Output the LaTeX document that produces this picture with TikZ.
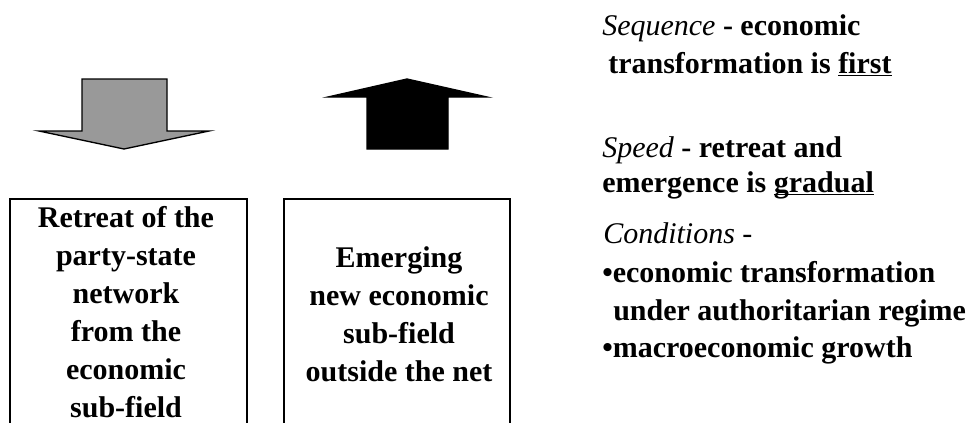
\documentclass[tikz,border=0pt]{standalone}
\usepackage{fontspec}
\setmainfont{Liberation Serif}
\definecolor{arrowgray}{HTML}{999999}
\newcommand{\undl}[1]{\setbox0\hbox{#1}\rlap{\rule[-2.6pt]{\wd0}{0.9pt}}\box0}
\tikzset{
  frame/.style={draw=black, line width=1pt},
  boxtext/.style={anchor=base, inner sep=0pt, font=\fontsize{22.5}{27}\selectfont\bfseries},
  sidetext/.style={anchor=base west, inner sep=0pt, font=\fontsize{22.5}{27}\selectfont\bfseries}
}

\begin{document}
\begin{tikzpicture}[x=0.75pt,y=-0.75pt]
			\useasboundingbox (0,0) rectangle (978,422);
			\clip (0,0) rectangle (978,422);
			% block arrows
			\draw[frame, fill=arrowgray] (82,79) -- (167,79) -- (167,131) -- (209,131) -- (124,149) -- (39,131) -- (82,131) -- cycle;
			\draw[frame, fill=black] (367,149) -- (367,97) -- (328,97) -- (407,79) -- (487,97) -- (448,97) -- (448,149) -- cycle;
			% boxes, cut off at the bottom
			\draw[frame] (10,199) rectangle (247,440);
			\draw[frame] (284,199) rectangle (510,440);
			\foreach \t [count=\i] in {Retreat of the, party-state, network, from the, economic, sub-field}
				\node[boxtext] (retreat\i) at (126,189+38*\i) {\t};
			\foreach \t [count=\i] in {Emerging, new economic, sub-field, outside the net}
				\node[boxtext] (emerge\i) at (399,229+38*\i) {\t};
			% right column
			\node[sidetext] (seq1) at (602,35) {\textit{\mdseries Sequence} - economic};
			\node[sidetext] (seq2) at (608,73) {transformation is \undl{first}};
			\node[sidetext] (speed1) at (602,157) {\textit{\mdseries Speed} - retreat and};
			\node[sidetext] (speed2) at (602,192) {emergence is \undl{gradual}};
			\node[sidetext] (cond) at (603,243) {\textit{\mdseries Conditions -}};
			\node[sidetext] (cond1) at (602,282) {•economic transformation};
			\node[sidetext] (cond2) at (613,320) {under authoritarian regime};
			\node[sidetext] (cond3) at (602,357) {•macroeconomic growth};
		\end{tikzpicture}
\end{document}
